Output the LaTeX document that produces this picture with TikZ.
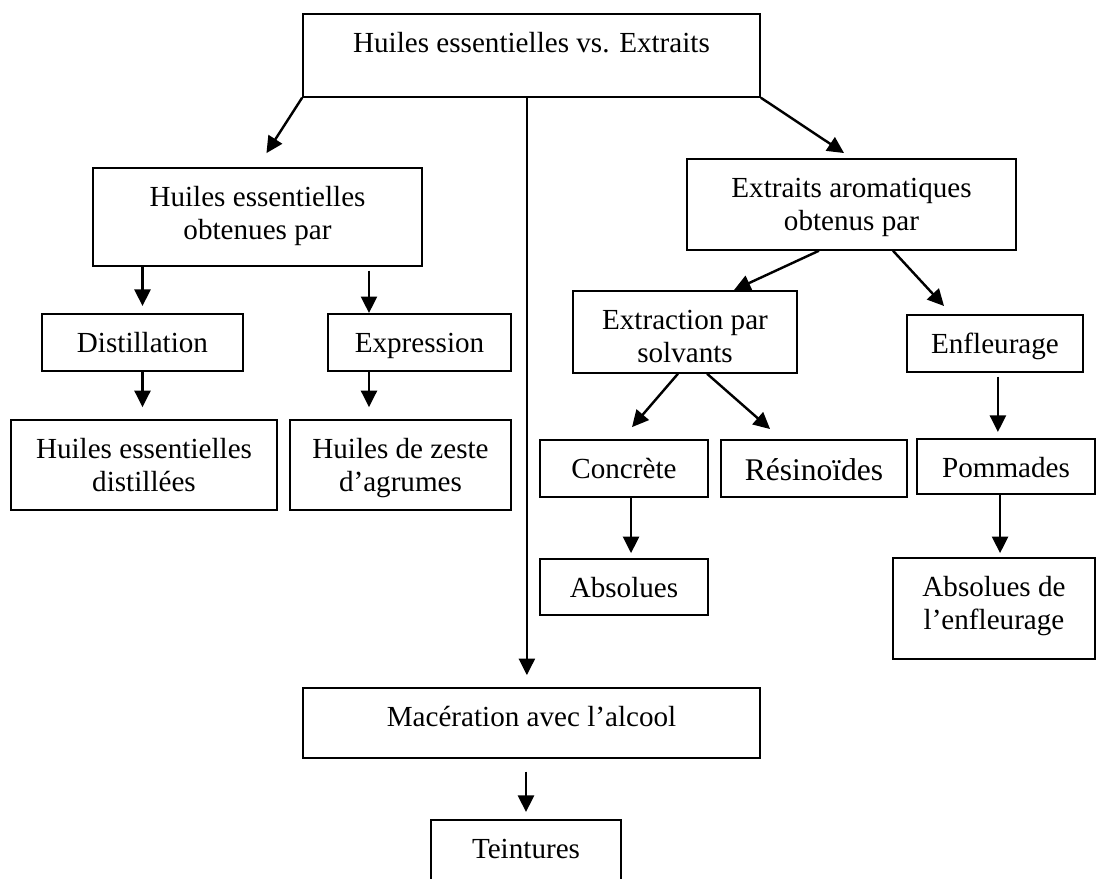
\documentclass[tikz,border=0pt]{standalone}
\usepackage{fontspec}
\setmainfont{Liberation Serif}
\usetikzlibrary{arrows.meta}
\newcommand{\topgap}{\rule{0pt}{15.9pt}}
\newcommand{\botgap}[1]{\rule[-#1]{0pt}{#1}}

\begin{document}
\begin{tikzpicture}[x=0.412pt, y=-0.412pt,
  box/.style={draw, line width=0.7pt, anchor=north, inner sep=0pt, align=center, font=\fontsize{12}{13.8}\selectfont},
  arr/.style={line width=1pt, -{Triangle[length=6.8pt, width=6.6pt]}}]
\useasboundingbox (0,0) rectangle (1096,878);
\node[box, minimum width=188.3pt] (top) at(531.5,13) {\topgap Huiles essentielles vs. Extraits\botgap{18.3pt}};
\node[box, minimum width=135.5pt] (he) at(257.5,167) {\topgap Huiles essentielles\\obtenues par\botgap{10.7pt}};
\node[box, minimum width=135.5pt] (ea) at(851.5,158) {\topgap Extraits aromatiques\\obtenus par\botgap{7.8pt}};
\node[box, minimum width=82.8pt] (dist) at(142.5,313) {\topgap Distillation\botgap{7.6pt}};
\node[box, minimum width=75.4pt] (expr) at(419.5,313) {\topgap Expression\botgap{7.6pt}};
\node[box, minimum width=92.3pt] (eps) at(685,290) {\topgap Extraction par\\solvants\botgap{4.1pt}};
\node[box, minimum width=72.5pt] (enf) at(995,314) {\topgap Enfleurage\botgap{7.6pt}};
\node[box, minimum width=109.6pt] (hed) at(144,419) {\topgap Huiles essentielles\\distillées\botgap{7.4pt}};
\node[box, minimum width=91.1pt] (hza) at(400.5,419) {\topgap Huiles de zeste\\d’agrumes\botgap{7.4pt}};
\node[box, minimum width=69.2pt] (conc) at(624,439) {\topgap Concrète\botgap{7.6pt}};
\node[box, minimum width=76.6pt, font=\fontsize{13}{15}\selectfont] (res) at(814,439) {\rule{0pt}{16.9pt}Résinoïdes\botgap{6.6pt}};
\node[box, minimum width=73.3pt] (pom) at(1006,438) {\topgap Pommades\botgap{6.8pt}};
\node[box, minimum width=69.2pt] (abs) at(624,558) {\topgap Absolues\botgap{7.2pt}};
\node[box, minimum width=83.2pt] (ade) at(994,557) {\topgap Absolues de\\l’enfleurage\botgap{11.9pt}};
\node[box, minimum width=188.3pt] (mac) at(531.5,687) {\topgap Macération avec l’alcool\botgap{12.9pt}};
\node[box, minimum width=78.3pt] (tein) at(526,819) {\topgap Teintures\botgap{9.2pt}};
\coordinate (excol) at(369,0);
\draw[arr, shorten >=6.8pt] (top.south west) -- (he.north);
\draw[arr, shorten >=3.7pt] (top.south east) -- (ea.north);
\draw[arr, shorten >=4.9pt] ([xshift=-1.9pt]top.south) -- ([xshift=-1.9pt]mac.north);
\draw[arr, shorten >=2.9pt] (dist.north |- he.south) -- (dist.north);
\draw[arr, shorten <=1.6pt] (excol |- he.south) -- (excol |- expr.north);
\draw[arr, shorten >=4.9pt] (dist.south) -- (dist.south |- hed.north);
\draw[arr, shorten >=4.9pt] (excol |- expr.south) -- (excol |- hza.north);
\draw[arr] ([xshift=-13.4pt]ea.south) -- ([xshift=20.2pt]eps.north);
\draw[arr] ([xshift=17.1pt]ea.south) -- ([xshift=-21pt, yshift=3.3pt]enf.north);
\draw[arr] ([xshift=-2.9pt]eps.south) -- ([xshift=3.3pt, yshift=4.9pt]conc.north);
\draw[arr] ([xshift=9.1pt]eps.south) -- ([xshift=-18.1pt, yshift=4.1pt]res.north);
\draw[arr, shorten <=1.6pt, shorten >=2.5pt] ([xshift=1.2pt]enf.south) -- ([xshift=1.2pt]enf.south |- pom.north);
\draw[arr, shorten >=1.6pt] ([xshift=2.5pt]ade.north |- pom.south) -- ([xshift=2.5pt]ade.north);
\draw[arr, shorten >=2pt] ([xshift=2.9pt]conc.south) -- ([xshift=2.9pt]abs.north);
\draw[arr, shorten <=5.4pt, shorten >=2.9pt] (tein.north |- mac.south) -- (tein.north);
\end{tikzpicture}
\end{document}
